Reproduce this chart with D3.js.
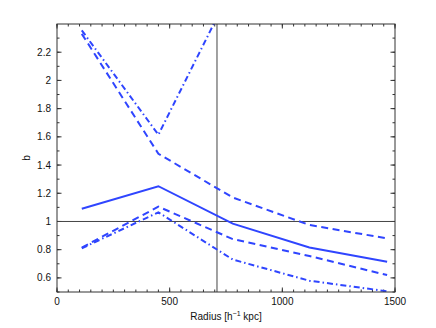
<!DOCTYPE html>
<html>
<head>
<meta charset="utf-8">
<script src="https://cdn.jsdelivr.net/npm/d3@7"></script>
<style>
  body { margin: 0; background: #fff; }
  text { font-family: "Liberation Sans", Arial, sans-serif; }
</style>
</head>
<body>
<svg id="chart" width="436" height="328"></svg>
<script>
// radius bins and bias values
const radius = [110, 450, 780, 1120, 1465];
const bMedian = [1.09, 1.25, 0.985, 0.815, 0.715];
const bUpperDash = [2.33, 1.48, 1.17, 0.975, 0.88];
const bLowerDash = [0.815, 1.105, 0.875, 0.755, 0.62];
const bUpperDashDot = [2.355, 1.615, 2.67, null, null];
const bLowerDashDot = [0.81, 1.065, 0.73, 0.58, 0.505];

const xTicks = [0, 500, 1000, 1500];
const yTicks = [0.6, 0.8, 1, 1.2, 1.4, 1.6, 1.8, 2, 2.2];
const refRadius = 710;
const refB = 1;

const margin = { top: 24, right: 41, bottom: 36, left: 57 };
const width = 436, height = 328;
const iw = width - margin.left - margin.right,
  ih = height - margin.top - margin.bottom;

const svg = d3.select("#chart");
const g = svg.append("g").attr("transform", `translate(${margin.left},${margin.top})`);

const x = d3.scaleLinear().domain([0, 1500]).range([0, iw]);
const y = d3.scaleLinear().domain([0.5, 2.4]).range([ih, 0]);

g.append("clipPath").attr("id", "clip")
  .append("rect").attr("width", iw).attr("height", ih);

const axisColor = "#333";
const lineColor = "#2f45ff";

// minor + major ticks on all four sides, pointing inward
const xMinor = d3.range(0, 1501, 50);
const yMinor = d3.range(5, 24, 1).map(d => d / 10);

function tickMarks(vals, len, horizontal) {
  vals.forEach(v => {
    if (horizontal) {
      const px = x(v);
      g.append("line").attr("x1", px).attr("x2", px).attr("y1", ih).attr("y2", ih - len);
      g.append("line").attr("x1", px).attr("x2", px).attr("y1", 0).attr("y2", len);
    } else {
      const py = y(v);
      g.append("line").attr("y1", py).attr("y2", py).attr("x1", 0).attr("x2", len);
      g.append("line").attr("y1", py).attr("y2", py).attr("x1", iw).attr("x2", iw - len);
    }
  });
}
tickMarks(xMinor, 2.5, true);
tickMarks(yMinor, 2.5, false);
tickMarks(xTicks, 4.5, true);
tickMarks(yTicks, 4.5, false);
g.selectAll("line").attr("stroke", axisColor).attr("stroke-width", 1);

// reference lines
g.append("line")
  .attr("x1", 0).attr("x2", iw).attr("y1", y(refB)).attr("y2", y(refB))
  .attr("stroke", "#444").attr("stroke-width", 1);
g.append("line")
  .attr("x1", x(refRadius)).attr("x2", x(refRadius)).attr("y1", 0).attr("y2", ih)
  .attr("stroke", "#444").attr("stroke-width", 1);

const line = d3.line()
  .defined(d => d[1] != null)
  .x(d => x(d[0]))
  .y(d => y(d[1]));

const series = [
  { values: bMedian, dash: null },
  { values: bUpperDash, dash: "7,4.5" },
  { values: bLowerDash, dash: "7,4.5" },
  { values: bUpperDashDot, dash: "6,3,1.5,3" },
  { values: bLowerDashDot, dash: "6,3,1.5,3" }
];

const lines = g.append("g").attr("clip-path", "url(#clip)");
series.forEach(s => {
  lines.append("path")
    .attr("d", line(radius.map((r, i) => [r, s.values[i]])))
    .attr("fill", "none")
    .attr("stroke", lineColor)
    .attr("stroke-width", 2)
    .attr("stroke-dasharray", s.dash);
});

// box
g.append("rect")
  .attr("width", iw).attr("height", ih)
  .attr("fill", "none").attr("stroke", axisColor).attr("stroke-width", 1);

// tick labels
g.selectAll(".xl").data(xTicks).enter().append("text")
  .attr("x", d => x(d)).attr("y", ih + 13)
  .attr("text-anchor", "middle").attr("font-size", 10).attr("fill", "#111")
  .text(d => d);
g.selectAll(".yl").data(yTicks).enter().append("text")
  .attr("x", -6).attr("y", d => y(d)).attr("dy", "0.35em")
  .attr("text-anchor", "end").attr("font-size", 10).attr("fill", "#111")
  .text(d => d);

// axis titles
const xl = svg.append("text")
  .attr("x", margin.left + iw / 2).attr("y", 320)
  .attr("text-anchor", "middle").attr("font-size", 10).attr("fill", "#111");
xl.append("tspan").text("Radius [h");
xl.append("tspan").attr("dy", -4).attr("font-size", 7).text("\u22121");
xl.append("tspan").attr("dy", 4).text(" kpc]");

svg.append("text")
  .attr("transform", `translate(30,${margin.top + ih / 2}) rotate(-90)`)
  .attr("text-anchor", "middle").attr("font-size", 10).attr("fill", "#111")
  .text("b");
</script>
</body>
</html>
